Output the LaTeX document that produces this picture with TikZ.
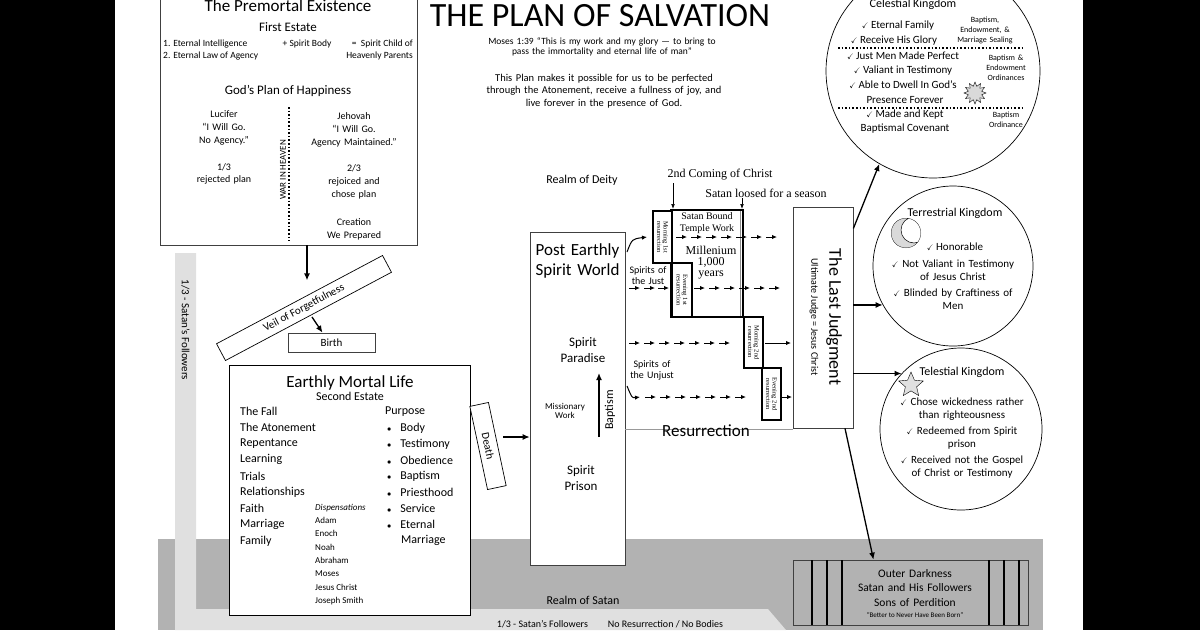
\documentclass[tikz,border=0pt]{standalone}
\usepackage{fontspec}
\usepackage{amssymb}
\setmainfont{Carlito}
\newfontfamily\tnr{Liberation Serif}
\usetikzlibrary{arrows.meta,shapes.geometric}
\newcommand{\fsz}[1]{\fontsize{#1}{#1}\selectfont}
\newcommand{\chk}{{\fsz{8}$\checkmark$}\ }
\tikzset{
  box/.style={draw=black!75,fill=white,line width=0.7pt,inner sep=0pt,align=center},
  txt/.style={inner sep=0pt,align=center},
  fwd/.style={-{Latex[length=7pt,width=6pt]},line width=1.3pt},
  dasharr/.style={-{Latex[length=5pt,width=4.5pt]},line width=1pt},
  stair/.style={draw,line width=1.8pt,fill=white,inner sep=0pt,align=center},
  dots/.style={dotted,line width=1.6pt},
  bar/.style={line width=1.4pt},
}
\begin{document}
\begin{tikzpicture}[x=1pt,y=-1pt]
    \useasboundingbox (0,0) rectangle (1200,630);
    \clip (0,0) rectangle (1200,630);
    % page and grey realms
    \fill[black] (0,0) rectangle (1200,630);
    \fill[white] (115,0) rectangle (1083,630);
    \fill[black!30] (158,539) rectangle (1043,630);
    \fill[black!12] (175,253) -- (196,253) -- (196,609) -- (768,609) -- (786,630) -- (175,630) -- cycle;
    \node[txt,rotate=-90,font=\fsz{11}] at (185.5,330) {1/3 - Satan's Followers};
    \node[txt,font=\fsz{10}] at (610,624) {1/3 - Satan's Followers\qquad No Resurrection / No Bodies};
    \node[txt,font=\fsz{12}] at (583,600) {Realm of Satan};

    % title
    \node[txt,font=\fsz{34}] at (600,16) {THE PLAN OF SALVATION};
    \node[txt,font=\fsz{9.5},text width=300pt,align=center] at (602,47)
        {Moses 1:39 ``This is my work and my glory --- to bring to\\[1pt] pass the immortality and eternal life of man''};
    \node[txt,font=\fsz{10.5},text width=300pt,align=center] at (604,91)
        {This Plan makes it possible for us to be perfected\\[2pt] through the Atonement, receive a fullness of joy, and\\[2pt] live forever in the presence of God.};

    % premortal existence
    \node[box,minimum width=257pt,minimum height=250pt] (pre) at (288.5,120) {};
    \node[txt,font=\fsz{17}] at (288,6) {The Premortal Existence};
    \node[txt,font=\fsz{13}] at (288,27) {First Estate};
    \node[txt,font=\fsz{9.5},anchor=west] at (163,44) {1. Eternal Intelligence};
    \node[txt,font=\fsz{9.5}] at (307,44) {+ Spirit Body};
    \node[txt,font=\fsz{9.5},anchor=east] at (413,44) {= \ Spirit Child of};
    \node[txt,font=\fsz{9.5},anchor=west] at (163,56) {2. Eternal Law of Agency};
    \node[txt,font=\fsz{9.5},anchor=east] at (413,56) {Heavenly Parents};
    \node[txt,font=\fsz{13}] at (288,91) {God's Plan of Happiness};
    \node[txt,font=\fsz{10},text width=100pt] at (224,128) {Lucifer\\[3pt] ``I Will Go.\\[3pt] No Agency.''};
    \node[txt,font=\fsz{10},text width=100pt] at (224,174) {1/3\\[2pt] rejected plan};
    \node[txt,font=\fsz{10},text width=110pt] at (354,130) {Jehovah\\[3pt] ``I Will Go.\\[3pt] Agency Maintained.''};
    \node[txt,font=\fsz{10},text width=100pt] at (354,182) {2/3\\[3pt] rejoiced and\\[3pt] chose plan};
    \node[txt,font=\fsz{10},text width=100pt] at (354,229) {Creation\\[3pt] We Prepared};
    \draw[dots] (289,107) -- (289,241);
    \node[txt,rotate=90,font=\fsz{9}] at (283,170) {WAR IN HEAVEN};

    % veil and birth
    \node[box,draw=black,rotate=28,minimum width=188pt,minimum height=19pt,font=\fsz{11}] (veil) at (304,308) {Veil of Forgetfulness};
    \draw[fwd] ([xshift=18.5pt]pre.south) -- ++(0,35);
    \node[box,minimum width=87pt,minimum height=19pt,font=\fsz{11}] (birth) at (331.5,342.5) {Birth};
    \draw[fwd] (312,317) -- ([xshift=-9pt]birth.north);

    % earthly mortal life
    \node[box,draw=black,minimum width=241pt,minimum height=250pt] (earth) at (349.5,490) {};
    \node[txt,font=\fsz{17}] at (350,383) {Earthly Mortal Life};
    \node[txt,font=\fsz{12}] at (350,396) {Second Estate};
    \foreach \t [count=\i] in {The Fall,The Atonement,Repentance,Learning,Trials,Relationships,Faith,Marriage,Family}
        \node[txt,anchor=west,font=\fsz{12}] at (240,395+16.2*\i) {\t};
    \node[txt,anchor=west,font=\fsz{12}] at (385,412) {Purpose};
    \foreach \t [count=\i] in {Body,Testimony,Obedience,Baptism,Priesthood,Service,Eternal}
        \node[txt,anchor=west,font=\fsz{12}] at (387,412+16*\i) {{\fsz{8}$\bullet$}\hspace{9pt}\t};
    \node[txt,anchor=west,font=\fsz{12}] at (401,540) {Marriage};
    \node[txt,anchor=west,font=\fsz{9}\itshape] at (315,508) {Dispensations};
    \foreach \t [count=\i] in {Adam,Enoch,Noah,Abraham,Moses,Jesus Christ,Joseph Smith}
        \node[txt,anchor=west,font=\fsz{9}] at (315,507+13.4*\i) {\t};

    % death
    \node[box,draw=black,rotate=-78,minimum width=85pt,minimum height=19pt,font=\fsz{11}] (death) at (488,446) {Death};

    % spirit world
    \node[box,minimum width=95pt,minimum height=333pt] (sw) at (577.5,398.5) {};
    \draw[fwd] (503,437) -- (sw.west |- 0,437);
    \node[txt,font=\fsz{12}] at (582,180) {Realm of Deity};
    \node[txt,font=\fsz{17},text width=95pt] at (577.5,261) {Post Earthly\\[3pt] Spirit World};
    \node[txt,font=\fsz{13},text width=80pt] at (583,350) {Spirit\\[3pt] Paradise};
    \node[txt,font=\fsz{13},text width=80pt] at (581,478) {Spirit\\[3pt] Prison};
    \node[txt,font=\fsz{9},text width=60pt] at (565,411) {Missionary\\ Work};
    \draw[fwd] (599,437) -- (599,373);
    \node[txt,rotate=90,font=\fsz{12}] at (610,410) {Baptism};
    \draw[black!40,line width=0.8pt] (sw.east |- 0,429) -- (793,429);
    \node[txt,font=\fsz{17}] at (706,431) {Resurrection};
    \node[txt,font=\fsz{10},text width=60pt] at (648,276) {Spirits of\\[1pt] the Just};
    \node[txt,font=\fsz{10},text width=60pt] at (652,370) {Spirits of\\[1pt] the Unjust};

    % millenium and resurrections
    \node[stair,minimum width=72pt,minimum height=107pt] (mil) at (707,263.5) {};
    \draw[line width=0.8pt,black!45] (740,211) -- (740,316);
    \node[txt,font=\tnr\fsz{10}] at (707,216) {Satan Bound};
    \node[txt,font=\tnr\fsz{10}] at (707,229) {Temple Work};
    \node[txt,font=\tnr\fsz{12},text width=60pt] at (711,263) {Millenium\\[-1pt] 1,000\\[-1pt] years};
    \node[stair,minimum height=19pt,minimum width=52pt,rotate=-90,font=\tnr\fsz{6.5}] (m1) at (662.5,237) {Morning 1st\\ resurrection};
    \node[stair,minimum height=20pt,minimum width=54pt,rotate=-90,font=\tnr\fsz{6.5}] (e1) at (682,290) {Evening 1st\\ resurrection};
    \node[stair,minimum height=19pt,minimum width=51pt,rotate=-90,font=\tnr\fsz{6.5}] (m2) at (753.5,342.5) {Morning 2nd\\ resurrection};
    \node[stair,minimum height=19pt,minimum width=52pt,rotate=-90,font=\tnr\fsz{6.5}] (e2) at (771.5,394) {Evening 2nd\\ resurrection};
    \node[txt,font=\tnr\fsz{12}] at (720,175) {2nd Coming of Christ};
    \node[txt,font=\tnr\fsz{12}] at (766,193) {Satan loosed for a season};
    \draw[-{Latex[length=5pt]},line width=0.7pt] (673,183) -- (673,209);
    \draw[-{Latex[length=5pt]},line width=0.7pt] (742,198) -- (742,209);

    % last judgment
    \node[box,minimum width=60pt,minimum height=221pt] (lj) at (823,317.5) {};
    \node[txt,rotate=-90,font=\fsz{18}] at (834,317) {The Last Judgment};
    \node[txt,rotate=-90,font=\fsz{10}] at (814,317) {Ultimate Judge = Jesus Christ};

    % dashed arrows into the judgment
    \draw[dasharr] (627,252) .. controls (632,239) .. (647,237);
    \draw[dasharr] (627,386) .. controls (632,398) .. (640,397);
    \foreach \x in {676,691,...,780} \draw[dasharr] (\x,237) -- ++(11,0);
    \foreach \x in {629,644,658} \draw[dasharr] (\x,288) -- ++(11,0);
    \foreach \x in {694,709,...,780} \draw[dasharr] (\x,288) -- ++(11,0);
    \foreach \x in {629,644,...,730} \draw[dasharr] (\x,343) -- ++(11,0);
    \draw[dasharr] (765,343) -- ++(26,0);
    \foreach \x in {645,660,...,748} \draw[dasharr] (\x,397) -- ++(11,0);
    \draw[dasharr] (782,397) -- ++(10,0);

    % kingdoms
    \node[draw,circle,minimum size=214pt,line width=0.7pt] (cel) at (933,71) {};
    \node[txt,font=\fsz{12}] at (913,4) {Celestial Kingdom};
    \node[txt,font=\fsz{11}] at (898,26) {\chk Eternal Family};
    \node[txt,font=\fsz{11}] at (894,41) {\chk Receive His Glory};
    \draw[dots] (838,48) -- (1022,48);
    \node[txt,font=\fsz{11}] at (903,56) {\chk Just Men Made Perfect};
    \node[txt,font=\fsz{11}] at (903,71) {\chk Valiant in Testimony};
    \node[txt,font=\fsz{11}] at (903,85) {\chk Able to Dwell In God's};
    \node[txt,font=\fsz{11}] at (905,100) {Presence Forever};
    \draw[dots] (838,108) -- (1022,108);
    \node[txt,font=\fsz{11}] at (905,115) {\chk Made and Kept};
    \node[txt,font=\fsz{11}] at (905,129) {Baptismal Covenant};
    \node[txt,font=\fsz{8},text width=70pt] at (985,30) {Baptism,\\[2pt] Endowment, \&\\[2pt] Marriage Sealing};
    \node[txt,font=\fsz{8},text width=70pt] at (1006,68) {Baptism \&\\[2pt] Endowment\\[2pt] Ordinances};
    \node[txt,font=\fsz{8},text width=70pt] at (1006,120) {Baptism\\[2pt] Ordinance};
    \node[star,star points=12,star point ratio=1.6,draw,fill=black!15,minimum size=22pt,inner sep=0pt] (sun) at (975,93) {};

    \node[draw,circle,minimum size=160pt,line width=0.7pt] (ter) at (953,266) {};
    \node[txt,font=\fsz{12}] at (955,213) {Terrestrial Kingdom};
    \begin{scope}
        \clip (906,233) circle (15pt);
        \fill[black!15,draw=black,line width=0.5pt,even odd rule] (906,233) circle (15pt) (914,230) circle (13pt);
    \end{scope}
    \node[txt,font=\fsz{11}] at (955,247) {\chk Honorable};
    \node[txt,font=\fsz{11},text width=140pt] at (953,270) {\chk Not Valiant in Testimony\\[2pt] of Jesus Christ};
    \node[txt,font=\fsz{11},text width=140pt] at (953,299) {\chk Blinded by Craftiness of\\[2pt] Men};

    \node[draw,circle,minimum size=162pt,line width=0.7pt] (tel) at (961,429) {};
    \node[txt,font=\fsz{12}] at (962,372) {Telestial Kingdom};
    \node[star,star points=5,star point ratio=2.2,draw,fill=black!12,minimum size=26pt,inner sep=0pt] (star) at (911,385) {};
    \node[txt,font=\fsz{11},text width=150pt] at (962,409) {\chk Chose wickedness rather\\[2pt] than righteousness};
    \node[txt,font=\fsz{11},text width=150pt] at (962,438) {\chk Redeemed from Spirit\\[2pt] prison};
    \node[txt,font=\fsz{11},text width=150pt] at (962,467) {\chk Received not the Gospel\\[2pt] of Christ or Testimony};

    % outer darkness
    \node[box,minimum width=235pt,minimum height=65pt,fill=black!30] (od) at (910.5,592.5) {};
    \foreach \x in {812,827,842,989,1004,1019} \draw[bar] (\x,560) -- (\x,625);
    \node[txt,font=\fsz{11.5},text width=160pt] at (915,588)
        {Outer Darkness\\[3pt] Satan and His Followers\\[3pt] Sons of Perdition};
    \node[txt,font=\fsz{7}] at (915,615) {``Better to Never Have Been Born''};

    % judgment outcomes
    \draw[fwd] ([yshift=89pt]lj.east) -- (cel.240);
    \draw[fwd] ([yshift=12.5pt]lj.east) -- (lj.east |- ter.209) -- (ter.209);
    \draw[fwd] (lj.east |- tel.137) -- (tel.137);
    \draw[fwd] ([xshift=22pt]lj.south) -- ([xshift=-37pt]od.north);
\end{tikzpicture}
\end{document}
